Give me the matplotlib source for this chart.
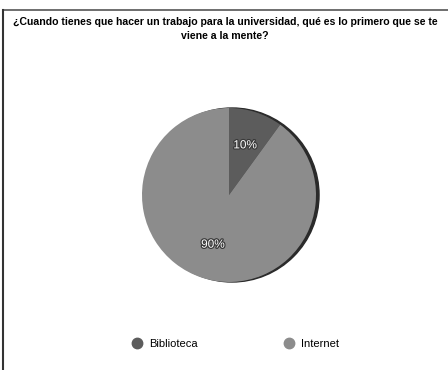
import matplotlib
matplotlib.use("Agg")
import matplotlib.pyplot as plt
import matplotlib.patheffects as pe
from matplotlib.lines import Line2D
from matplotlib.patches import Ellipse

title = "¿Cuando tienes que hacer un trabajo para la universidad, qué es lo primero que se te\nviene a la mente?"
labels = ["Biblioteca", "Internet"]
values = [10, 90]
colors = ["#5c5c5c", "#8c8c8c"]

plt.rcParams['font.family'] = ['Liberation Sans', 'DejaVu Sans']

fig = plt.figure(figsize=(4.48, 3.70), dpi=100)
fig.patch.set_facecolor("white")

# frame lines (top and left)
fig.add_artist(Line2D([3/448, 1], [1 - 10/370, 1 - 10/370], color="#555555", lw=1.2))
fig.add_artist(Line2D([3/448, 3/448], [0, 1 - 10/370], color="#333333", lw=1.5))

fig.text(225/448, 1 - 29/370, title, ha="center", va="center", fontsize=7.6,
         fontweight="bold", linespacing=1.55)

# pie axes
cx, cy, r = 229, 195, 87
ax = fig.add_axes([(cx - r)/448, 1 - (cy + r)/370, 2*r/448, 2*r/370])
# shadow / edge
ax.add_patch(Ellipse((0.035, 0.0), 2.0, 2.0, color="#2a2a2a", zorder=0, clip_on=False))
wedges, texts, autotexts = ax.pie(values, colors=colors, startangle=90, counterclock=False,
                                  autopct="%d%%", pctdistance=0.6,
                                  textprops=dict(color="white", fontsize=8.5))
for w in wedges:
    w.set_zorder(1)
for t in autotexts:
    t.set_path_effects([pe.withStroke(linewidth=1.8, foreground="#3a3a3a")])
ax.set_aspect("auto")
ax.set_xlim(-1, 1)
ax.set_ylim(-1, 1)
ax.axis("off")

handles = [Line2D([], [], marker="o", ls="", color=c, markersize=7.5) for c in colors]
fig.legend(handles, labels, loc="center", bbox_to_anchor=(234.5/448, 1 - 344/370), ncol=2,
           frameon=False, fontsize=8, columnspacing=7.6, handletextpad=0.5, handlelength=1.2)

fig.savefig("out.png", dpi=100, facecolor="white")
